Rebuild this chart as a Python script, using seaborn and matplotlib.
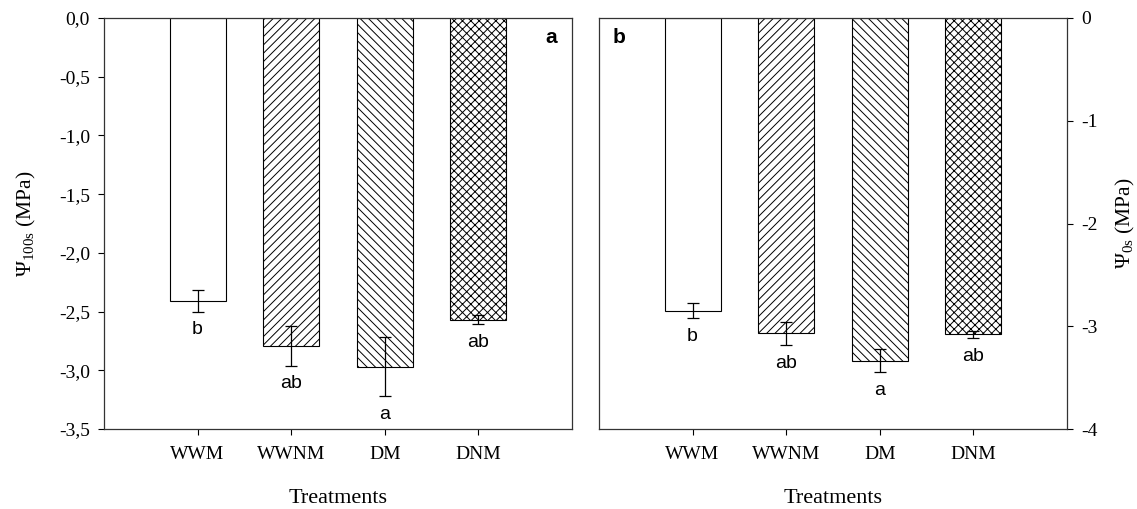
import numpy as np
import pandas as pd
import matplotlib
matplotlib.use("Agg")
import matplotlib.pyplot as plt
import seaborn as sns

treatments = ["WWM", "WWNM", "DM", "DNM"]
hatches = ["", "////", "\\\\\\\\", "xxxx"]

psi_100s = [-2.41, -2.79, -2.97, -2.57]
psi_100s_err = [0.09, 0.17, 0.25, 0.04]
letters_a = ["b", "ab", "a", "ab"]
yticks_a = [0.0, -0.5, -1.0, -1.5, -2.0, -2.5, -3.0, -3.5]
yticklabels_a = ["0,0", "-0,5", "-1,0", "-1,5", "-2,0", "-2,5", "-3,0", "-3,5"]

psi_0s = [-2.85, -3.07, -3.335, -3.08]
psi_0s_err = [0.073, 0.115, 0.11, 0.035]
letters_b = ["b", "ab", "a", "ab"]
yticks_b = [0, -1, -2, -3, -4]
yticklabels_b = ["0", "-1", "-2", "-3", "-4"]

sns.set_style("ticks")
plt.rcParams["font.family"] = ["Liberation Serif", "DejaVu Serif"]
plt.rcParams["mathtext.fontset"] = "custom"
plt.rcParams["mathtext.rm"] = "Liberation Serif"
plt.rcParams["mathtext.it"] = "Liberation Serif"
plt.rcParams["hatch.linewidth"] = 0.7
plt.rcParams["axes.linewidth"] = 0.9
plt.rcParams["text.color"] = "black"
plt.rcParams["axes.labelcolor"] = "black"

fig = plt.figure(figsize=(11.37, 5.09), dpi=100)
W, H = 1137, 509
ax1 = fig.add_axes([104 / W, (H - 429) / H, 468 / W, 411 / H])
ax2 = fig.add_axes([599 / W, (H - 429) / H, 468 / W, 411 / H])


def panel(ax, vals, errs, letters, yticks, yticklabels, ylim, ylabel, tag, tag_x, tag_ha,
          label_x, right=False):
    df = pd.DataFrame({"Treatment": treatments, "value": vals})
    sns.barplot(data=df, x="Treatment", y="value", order=treatments, ax=ax,
                color="white", edgecolor="black", linewidth=0.8, width=0.6,
                errorbar=None, saturation=1)
    for patch, h in zip(ax.patches, hatches):
        patch.set_hatch(h)
        patch.set_facecolor("white")
        patch.set_edgecolor("black")
    x = np.arange(len(treatments))
    ax.errorbar(x, vals, yerr=errs, fmt="none", ecolor="black", elinewidth=0.9,
                capsize=4, capthick=0.9)
    for xi, v, e, lab in zip(x, vals, errs, letters):
        ax.annotate(lab, (xi, v - e), xytext=(0, -7), textcoords="offset points",
                    ha="center", va="top", fontsize=14, family="Liberation Sans",
                    color="black")
    ax.set_xlim(-1, 4)
    ax.set_ylim(*ylim)
    ax.set_yticks(yticks)
    ax.set_yticklabels(yticklabels)
    ax.tick_params(axis="both", direction="out", length=4.5, width=0.8, labelsize=14,
                   colors="black")
    ax.tick_params(axis="x", pad=8)
    ax.tick_params(axis="y", pad=5.5)
    ax.set_xlabel("Treatments", fontsize=16, color="black")
    ax.xaxis.set_label_coords(0.5, -0.17)
    ax.xaxis.label.set_verticalalignment("center")
    if right:
        ax.yaxis.tick_right()
        ax.yaxis.set_label_position("right")
    ax.set_ylabel(ylabel, fontsize=15.5, rotation=90, color="black")
    ax.yaxis.set_label_coords(label_x, 0.5)
    ax.yaxis.label.set_verticalalignment("center")
    for s in ax.spines.values():
        s.set_visible(True)
        s.set_color("#333333")
    ax.text(tag_x, 0.952, tag, transform=ax.transAxes, ha=tag_ha, va="center",
            fontsize=15, fontweight="bold", family="Liberation Sans", color="black")


panel(ax1, psi_100s, psi_100s_err, letters_a, yticks_a, yticklabels_a, (-3.5, 0),
      r"$\Psi_{\mathregular{100s}}$ (MPa)", "a", 0.968, "right", -0.165)
panel(ax2, psi_0s, psi_0s_err, letters_b, yticks_b, yticklabels_b, (-4, 0),
      r"$\Psi_{\mathregular{0s}}$ (MPa)", "b", 0.028, "left", 1.126, right=True)

fig.savefig("out.png", dpi=100)
